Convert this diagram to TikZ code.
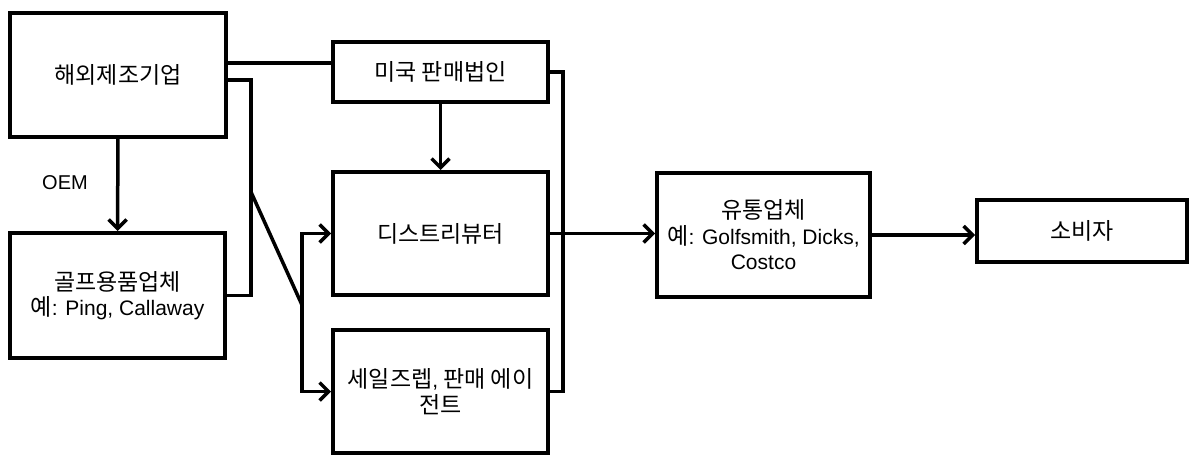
\documentclass[tikz,border=0pt]{standalone}
\usepackage{fontspec}
\setmainfont{Noto Sans CJK KR}
\newfontfamily\lat{Liberation Sans}
\newcommand\lt[1]{{\lat\fontsize{21}{25.5}\selectfont #1}}
\usetikzlibrary{arrows.meta}
\begin{document}
\begin{tikzpicture}[x=1pt,y=-1pt,
  box/.style={draw, line width=4pt, inner sep=0pt, align=center,
    font=\fontsize{23}{25.5}\selectfont},
  conn/.style={line width=3.5pt},
  arr/.style={conn, -{Straight Barb[length=9pt,width=18pt]}},
  lbl/.style={font=\lat\fontsize{20}{24}\selectfont, inner sep=0pt}]
\useasboundingbox[fill=white] (0,0) rectangle (1197,455);

\node[box, minimum width=216pt, minimum height=124pt] (A) at (118,75) {해외제조기업};
\node[box, minimum width=215pt, minimum height=60pt] (B) at (440.5,72) {미국 판매법인};
\node[box, minimum width=215pt, minimum height=125pt] (C) at (117.5,295.5) {골프용품업체\\예\lt{: Ping, Callaway}};
\node[box, minimum width=215pt, minimum height=123pt] (D) at (440.5,233.5) {디스트리뷰터};
\node[box, minimum width=215pt, minimum height=123pt] (E) at (440.5,391.5) {세일즈렙\lt{,} 판매 에이\\전트};
\node[box, minimum width=213pt, minimum height=124pt] (F) at (763.5,235) {유통업체\\예\lt{: Golfsmith, Dicks,}\\\lt{Costco}};
\node[box, minimum width=210pt, minimum height=62pt] (G) at (1082,231) {소비자};

\node[lbl] (oem) at (65,183) {OEM};

\coordinate (a1) at ([yshift=12pt]A.east);
\coordinate (a2) at ([yshift=-5pt]A.east);
\coordinate (j1) at (251,192);
\coordinate (j2) at (302,305);
\coordinate (k) at (563,234);

% A -- B
\draw[conn] (a1) -- (a1 -| B.west);
% A -> C (OEM)
\draw[arr] (A) -- (C);
% B -> D
\draw[arr] (B) -- (D);
% A and C to the bracket
\draw[conn] (a2) -| (j1) |- (C.east);
\draw[conn] (j1) -- (j2);
\draw[arr] (j2) |- (D.west);
\draw[arr] (j2) |- (E.west);
% B and E to the right
\draw[conn] (B.east) -| (k) |- (E.east);
% D -> F
\draw[arr] (D.east) -- (D.east -| F.west);
% F -> G
\draw[arr] (F.east) -- (F.east -| G.west);
\end{tikzpicture}
\end{document}
